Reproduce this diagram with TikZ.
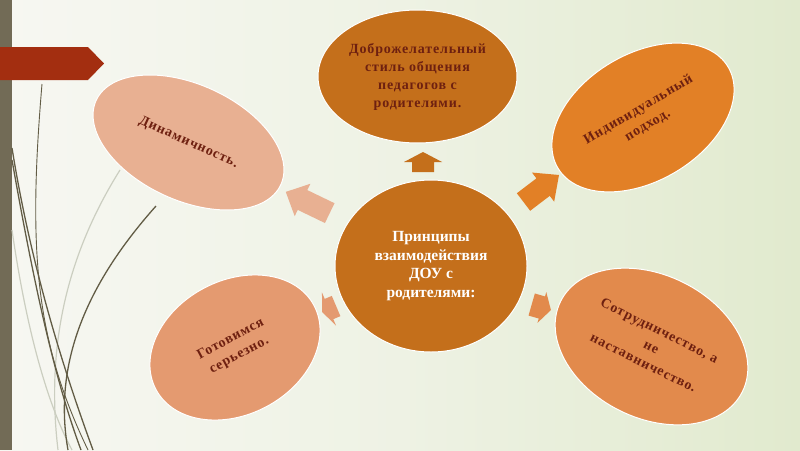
\documentclass[tikz,border=0pt]{standalone}
\usepackage{fontspec}
\setmainfont{Liberation Serif}
\newfontfamily\spacedfont[LetterSpace=6]{Liberation Serif}
\usetikzlibrary{shapes.geometric}
\definecolor{bgA}{HTML}{F7F7F2}
\definecolor{bgM}{HTML}{EEF2E4}
\definecolor{bgB}{HTML}{E1EACE}
\definecolor{barcol}{HTML}{726B56}
\definecolor{bannercol}{HTML}{A32E10}
\definecolor{linedark}{HTML}{625C45}
\definecolor{linelight}{HTML}{CBCEC0}
\definecolor{cMain}{HTML}{C46F1B}
\definecolor{cDyn}{HTML}{E8B092}
\definecolor{cInd}{HTML}{E28026}
\definecolor{cGot}{HTML}{E49A70}
\definecolor{cSot}{HTML}{E28A4C}
\definecolor{txtcol}{HTML}{6E2010}
\tikzset{
  bubble/.style={ellipse, draw=white, line width=1pt, inner sep=0pt, align=center,
    text=txtcol, font=\spacedfont\fontsize{14}{18}\selectfont\bfseries},
  deco/.style={line width=1.3pt, draw=linedark},
  decothin/.style={line width=0.9pt, draw=linedark},
  decolight/.style={line width=1.2pt, draw=linelight}
}
% block arrow: #1 colour, #2 x, #3 y, #4 angle, #5 length, #6 head length, #7 head half-width, #8 shaft half-width
\newcommand\blockarr[8]{%
  \fill[#1, shift={(#2,#3)}, rotate=#4]
    (-#5/2,-#8) -- (#5/2-#6,-#8) -- (#5/2-#6,-#7) -- (#5/2,0) --
    (#5/2-#6,#7) -- (#5/2-#6,#8) -- (-#5/2,#8) -- cycle;}
\begin{document}
\begin{tikzpicture}[x=1pt,y=-1pt]
\useasboundingbox (0,0) rectangle (800,450);
% background
\shade[left color=bgA, right color=bgB, middle color=bgM] (0,0) rectangle (800,450);
% left bar
\fill[barcol] (0,0) rectangle (11.5,450);
% banner
\fill[bannercol] (0,47) -- (88,47) -- (104,63.5) -- (88,80) -- (0,80) -- cycle;
% decorative curves
\draw[decolight] (120,170) .. controls (70,250) and (45,340) .. (58,450);
\draw[decolight] (12,230) .. controls (25,320) and (45,400) .. (72,450);
\draw[decothin] (42,84) .. controls (28,250) and (35,340) .. (88,450);
\draw[deco] (12,148) .. controls (30,260) and (60,360) .. (93,450);
\draw[deco] (12,160) .. controls (35,290) and (55,380) .. (81,450);
\draw[deco] (156,206) .. controls (90,280) and (52,360) .. (68,450);
% ellipses
\node[bubble, fill=cMain, minimum width=199, minimum height=133] (style) at (417.5,76.5)
  {Доброжелательный\\стиль общения\\педагогов с\\родителями.};
\node[bubble, fill=cMain, minimum width=192, minimum height=172, text=white,
  font=\fontsize{15.5}{18.5}\selectfont\bfseries] (main) at (431,266)
  {Принципы\\взаимодействия\\ДОУ с\\родителями:};
\node[bubble, fill=cDyn, minimum width=203, minimum height=116, rotate=-24.5] (dyn) at (188.5,142.5)
  {Динамичность.};
\node[bubble, fill=cInd, minimum width=198, minimum height=127, rotate=30.7] (ind) at (643,117.5)
  {Индивидуальный\\подход.};
\node[bubble, fill=cGot, minimum width=179, minimum height=134, rotate=28] (got) at (235,347.5)
  {Готовимся\\серьезно.};
\node[bubble, fill=cSot, minimum width=203, minimum height=143, rotate=-26.4] (sot) at (651.5,346.5)
  {Сотрудничество, а\\не\\наставничество.};
% block arrows
\blockarr{cMain}{423}{162}{90}{20}{10}{19}{11}
\blockarr{cDyn}{307.75}{202.5}{154.2}{48.8}{18.6}{18}{11}
\blockarr{cInd}{541.25}{188.5}{37.3}{44.6}{20}{18.3}{11}
\blockarr{cGot}{329.1}{309}{203}{15.2}{7.5}{18}{11}
\blockarr{cSot}{541.3}{307.3}{-16}{20}{9.4}{16}{11.5}
\end{tikzpicture}
\end{document}
